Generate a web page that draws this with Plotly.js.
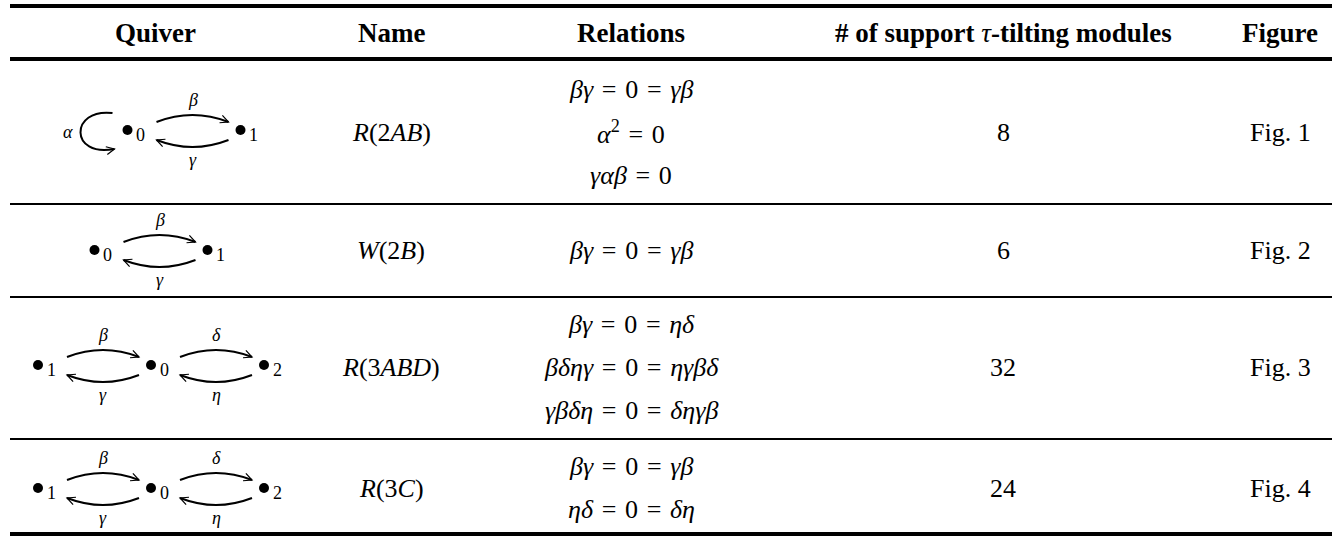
<!DOCTYPE html>
<html>
<head>
<meta charset="utf-8">
<script src="https://cdn.plot.ly/plotly-3.0.1.min.js"></script>
<style>html,body{margin:0;padding:0;background:#fff;}#chart{width:1332px;height:538px;}</style>
</head>
<body>
<div id="chart"></div>
<script>
// ---------- data ----------
const headers = ['Quiver', 'Name', 'Relations', '# of support τ-tilting modules', 'Figure'];
const names = ['R(2AB)', 'W(2B)', 'R(3ABD)', 'R(3C)'];
const relations = [
  ['βγ = 0 = γβ', 'α^2 = 0', 'γαβ = 0'],
  ['βγ = 0 = γβ'],
  ['βγ = 0 = ηδ', 'βδηγ = 0 = ηγβδ', 'γβδη = 0 = δηγβ'],
  ['βγ = 0 = γβ', 'ηδ = 0 = δη']
];
const counts = [8, 6, 32, 24];
const figures = ['Fig. 1', 'Fig. 2', 'Fig. 3', 'Fig. 4'];
const quiverVertices = [['0', '1'], ['0', '1'], ['1', '0', '2'], ['1', '0', '2']];
const quiverArrows = [
  [['β', '0', '1'], ['γ', '1', '0']],
  [['β', '0', '1'], ['γ', '1', '0']],
  [['β', '1', '0'], ['γ', '0', '1'], ['δ', '0', '2'], ['η', '2', '0']],
  [['β', '1', '0'], ['γ', '0', '1'], ['δ', '0', '2'], ['η', '2', '0']]
];
const quiverLoops = [[['α', '0']], [], [], []];

// ---------- layout constants ----------
const W = 1332, H = 538;
const FONT = 'Liberation Serif';
const colX = [155, 391, 631, 1003, 1280];
const headerY = 33;
const rowY = [132, 250, 367, 488];
const quiverDY = [-2, 0, -2, 0];
const relSpacing = 43;
const rules = [
  {y: 6, w: 4}, {y: 59, w: 4}, {y: 204, w: 2}, {y: 297, w: 2}, {y: 439, w: 2}, {y: 534, w: 4}
];
const vSpacing = 113;
const quiverCenter = 151;
const loopShift = 33;

function mathFmt(s) {
  return s.replace(/ = /g, '\u2004=\u2004')
          .replace(/[A-Za-zα-ω]+/g, m => '<i>' + m + '</i>')
          .replace(/\^(\d)/g, '<sup>$1</sup>');
}
function headerFmt(s) {
  return '<b>' + s.replace(/([α-ω])/g, '</b><i>$1</i><b>') + '</b>';
}

const annotations = [];
const shapes = [];
function txt(x, y, text, size) {
  annotations.push({
    x: x, y: y, xref: 'x', yref: 'y', text: text, showarrow: false,
    xanchor: 'center', yanchor: 'middle',
    font: {family: FONT, size: size, color: '#000'}
  });
}

// rules
rules.forEach(r => shapes.push({
  type: 'line', xref: 'x', yref: 'y', x0: 10, x1: W, y0: r.y, y1: r.y,
  line: {color: '#000', width: r.w}
}));

// headers
headers.forEach((h, i) => txt(colX[i], headerY, headerFmt(h), 27));

// rows
names.forEach((n, i) => txt(colX[1], rowY[i], mathFmt(n), 26));
relations.forEach((rels, i) => {
  const n = rels.length;
  rels.forEach((r, k) => txt(colX[2], rowY[i] + (k - (n - 1) / 2) * relSpacing, mathFmt(r), 26));
});
counts.forEach((c, i) => txt(colX[3], rowY[i], String(c), 26));
figures.forEach((f, i) => txt(colX[4], rowY[i], f, 26));

// arrowhead helper
function arrowHead(tx, ty, dx, dy) {
  const len = Math.hypot(dx, dy); dx /= len; dy /= len;
  const bx = -dx, by = -dy, L = 9, th = 26 * Math.PI / 180;
  const r1x = bx * Math.cos(th) - by * Math.sin(th), r1y = bx * Math.sin(th) + by * Math.cos(th);
  const r2x = bx * Math.cos(-th) - by * Math.sin(-th), r2y = bx * Math.sin(-th) + by * Math.cos(-th);
  shapes.push({
    type: 'path', xref: 'x', yref: 'y',
    path: `M ${tx + L * r1x} ${ty + L * r1y} L ${tx} ${ty} L ${tx + L * r2x} ${ty + L * r2y}`,
    line: {color: '#000', width: 1.2}
  });
}

// quivers
const dotX = [], dotY = [];
quiverVertices.forEach((verts, r) => {
  const y = rowY[r] + quiverDY[r];
  const hasLoop = quiverLoops[r].length > 0;
  const x0 = quiverCenter - (verts.length - 1) * vSpacing / 2 + (hasLoop ? loopShift : 0);
  const vx = verts.map((v, k) => x0 + k * vSpacing);
  verts.forEach((v, k) => {
    dotX.push(vx[k]); dotY.push(y);
    txt(vx[k] + 13, y + 5, v, 18);
  });
  quiverArrows[r].forEach(a => {
    const i = verts.indexOf(a[1]), j = verts.indexOf(a[2]);
    const left = Math.min(i, j), right = Math.max(i, j);
    const xs = vx[left] + 29, xe = vx[right] - 12, xm = (xs + xe) / 2;
    if (i < j) {
      const ey = y - 8, cy = y - 22;
      shapes.push({type: 'path', xref: 'x', yref: 'y', path: `M ${xs} ${ey} Q ${xm} ${cy} ${xe} ${ey}`, line: {color: '#000', width: 2}});
      arrowHead(xe, ey, xe - xm, ey - cy);
      txt(xm, y - 30, mathFmt(a[0]), 18);
    } else {
      const ey = y + 10, cy = y + 24;
      shapes.push({type: 'path', xref: 'x', yref: 'y', path: `M ${xe} ${ey} Q ${xm} ${cy} ${xs} ${ey}`, line: {color: '#000', width: 2}});
      arrowHead(xs, ey, xs - xm, ey - cy);
      txt(xm, y + 30, mathFmt(a[0]), 18);
    }
  });
  quiverLoops[r].forEach(l => {
    const x = vx[verts.indexOf(l[1])];
    const sx = x - 15, sy = y - 17, ex = x - 13, ey = y + 19;
    const c1x = x - 58, c1y = y - 22, c2x = x - 58, c2y = y + 28;
    shapes.push({type: 'path', xref: 'x', yref: 'y',
      path: `M ${sx} ${sy} C ${c1x} ${c1y} ${c2x} ${c2y} ${ex} ${ey}`, line: {color: '#000', width: 2}});
    arrowHead(ex, ey, ex - c2x, ey - c2y);
    txt(x - 60, y + 2, mathFmt(l[0]), 18);
  });
});

const traces = [{
  type: 'scatter', mode: 'markers', x: dotX, y: dotY,
  marker: {size: 10, color: '#000'}, hoverinfo: 'skip', showlegend: false
}];

const layout = {
  width: W, height: H,
  margin: {l: 0, r: 0, t: 0, b: 0, pad: 0},
  paper_bgcolor: '#fff', plot_bgcolor: '#fff',
  font: {family: FONT, color: '#000'},
  xaxis: {range: [0, W], visible: false, fixedrange: true},
  yaxis: {range: [H, 0], visible: false, fixedrange: true},
  showlegend: false,
  shapes: shapes,
  annotations: annotations
};
Plotly.newPlot('chart', traces, layout, {staticPlot: true, displayModeBar: false});
</script>
</body>
</html>
